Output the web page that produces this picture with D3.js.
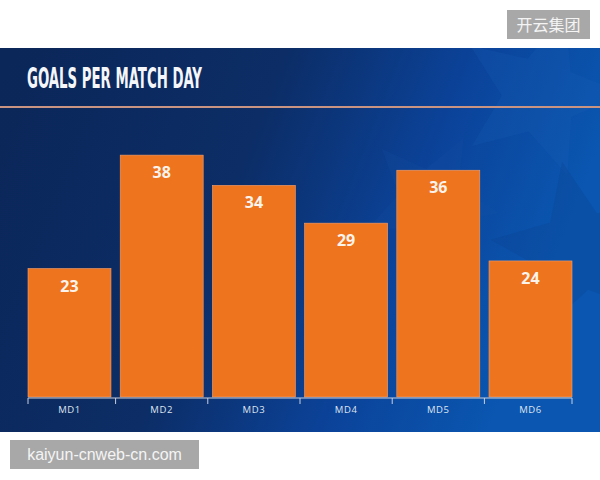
<!doctype html>
<html>
<head>
<script src="https://d3js.org/d3.v7.min.js"></script>
<style>
  body { margin: 0; background: #fff; }
</style>
</head>
<body>
<svg width="600" height="480" id="chart"></svg>
<script>
// data
var matchDays = ["MD1", "MD2", "MD3", "MD4", "MD5", "MD6"];
var goals = [23, 38, 34, 29, 36, 24];
var title = "GOALS PER MATCH DAY";

var svg = d3.select("#chart");

// background panel
var defs = svg.append("defs");
var grad = defs.append("linearGradient")
  .attr("id", "bg")
  .attr("x1", "0").attr("y1", "0").attr("x2", "1").attr("y2", "0.25");
grad.append("stop").attr("offset", "0%").attr("stop-color", "#0b2658");
grad.append("stop").attr("offset", "45%").attr("stop-color", "#0c2d66");
grad.append("stop").attr("offset", "75%").attr("stop-color", "#0b439a");
grad.append("stop").attr("offset", "100%").attr("stop-color", "#0a56b0");

svg.append("clipPath").attr("id", "panelClip")
  .append("rect").attr("x", 0).attr("y", 48).attr("width", 600).attr("height", 384);

svg.append("rect")
  .attr("x", 0).attr("y", 48)
  .attr("width", 600).attr("height", 384)
  .attr("fill", "url(#bg)");

// faint stars in the background
function star(cx, cy, r, rot) {
  var pts = [];
  for (var i = 0; i < 10; i++) {
    var a = rot + i * Math.PI / 5;
    var rr = i % 2 ? r * 0.45 : r;
    pts.push([cx + rr * Math.sin(a), cy - rr * Math.cos(a)]);
  }
  return "M" + pts.join("L") + "Z";
}
var stars = svg.append("g").attr("clip-path", "url(#panelClip)");
stars.append("path").attr("d", star(540, 95, 85, 0.3))
  .attr("fill", "#1b5fb8").attr("opacity", 0.22);
stars.append("path").attr("d", star(580, 250, 90, -0.2))
  .attr("fill", "#0a3f8c").attr("opacity", 0.25);
stars.append("path").attr("d", star(430, 200, 70, 0.5))
  .attr("fill", "#1a55a8").attr("opacity", 0.15);

// title
svg.append("text")
  .attr("x", 27)
  .attr("y", 88)
  .attr("textLength", 175)
  .attr("lengthAdjust", "spacingAndGlyphs")
  .style("font-family", "'Liberation Sans Narrow', 'DejaVu Sans Condensed', sans-serif")
  .style("font-weight", "bold")
  .style("font-size", "29px")
  .style("fill", "#f4f6fa")
  .text(title);

// line under title
svg.append("line")
  .attr("x1", 0).attr("x2", 600)
  .attr("y1", 107).attr("y2", 107)
  .attr("stroke", "#c99482")
  .attr("stroke-width", 2);

// scales
var x = d3.scaleBand().domain(matchDays).range([28, 572]).paddingInner(0.1).paddingOuter(0);
var y = d3.scaleLinear().domain([6, 40]).range([397, 140]);

// bars
svg.append("g")
  .selectAll("rect")
  .data(goals)
  .enter()
  .append("rect")
  .attr("x", function (d, i) { return x(matchDays[i]); })
  .attr("y", function (d) { return y(d); })
  .attr("width", x.bandwidth())
  .attr("height", function (d) { return y.range()[0] - y(d); })
  .attr("fill", "#ee741d")
  .attr("stroke", "#f3a070")
  .attr("stroke-width", 0.6);

// value labels
svg.append("g")
  .selectAll("text")
  .data(goals)
  .enter()
  .append("text")
  .attr("x", function (d, i) { return x(matchDays[i]) + x.bandwidth() / 2; })
  .attr("y", function (d) { return y(d) + 23; })
  .attr("text-anchor", "middle")
  .style("font-family", "'Open Sans', sans-serif")
  .style("font-weight", "bold")
  .style("font-size", "16px")
  .style("fill", "#fbf3ec")
  .text(function (d) { return d; });

// x axis: baseline, boundary ticks, labels
var axisY = 398;
var step = x.step();
var bounds = [x.range()[0]];
matchDays.slice(1).forEach(function (m) { bounds.push(x(m) - (step - x.bandwidth()) / 2); });
bounds.push(x.range()[1]);

var axis = svg.append("g").attr("class", "axis");
axis.append("line")
  .attr("x1", x.range()[0]).attr("x2", x.range()[1])
  .attr("y1", axisY).attr("y2", axisY)
  .attr("stroke", "#c9cfdc").attr("stroke-width", 1);
axis.selectAll(".tick-mark")
  .data(bounds)
  .enter()
  .append("line")
  .attr("x1", function (d) { return d; }).attr("x2", function (d) { return d; })
  .attr("y1", axisY).attr("y2", axisY + 6)
  .attr("stroke", "#c9cfdc").attr("stroke-width", 1);

var labels = svg.append("g")
  .attr("transform", "translate(0," + axisY + ")")
  .call(d3.axisBottom(x).tickSize(0).tickPadding(8));
labels.select(".domain").remove();
labels.selectAll("text")
  .style("font-family", "'Open Sans', sans-serif")
  .style("font-size", "9.5px")
  .style("letter-spacing", "0.6px")
  .style("fill", "#dfe5f0");

// watermarks
svg.append("rect").attr("x", 507).attr("y", 10).attr("width", 83).attr("height", 29).attr("fill", "#a8a8a8");
svg.append("text")
  .attr("x", 548.5).attr("y", 31)
  .attr("text-anchor", "middle")
  .style("font-family", "'Noto Sans CJK SC', sans-serif")
  .style("font-size", "16px")
  .style("fill", "#f4f4f4")
  .text("开云集团");

svg.append("rect").attr("x", 10).attr("y", 440).attr("width", 189).attr("height", 29).attr("fill", "#a8a8a8");
svg.append("text")
  .attr("x", 104.5).attr("y", 460)
  .attr("text-anchor", "middle")
  .style("font-family", "'Liberation Sans', sans-serif")
  .style("font-size", "16px")
  .style("fill", "#f4f4f4")
  .text("kaiyun-cnweb-cn.com");
</script>
</body>
</html>
